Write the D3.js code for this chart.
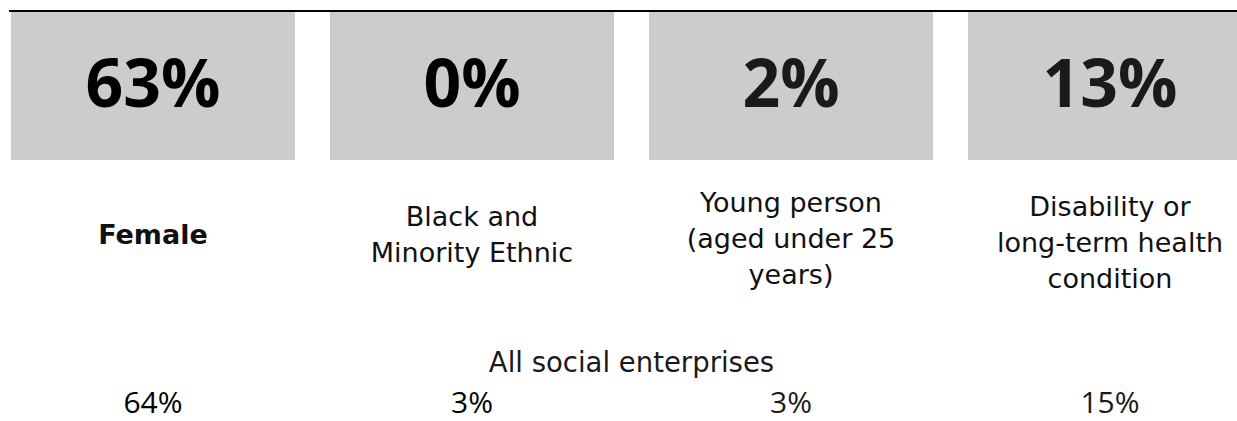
<!DOCTYPE html>
<html>
<head>
<meta charset="utf-8">
<script src="https://cdn.jsdelivr.net/npm/d3@7"></script>
<style>
  html, body { margin: 0; padding: 0; background: #fff; overflow: hidden; }
  svg { display: block; }
</style>
</head>
<body>
<svg id="chart" width="1237" height="421"></svg>
<script>
// ---- data ----
const categories = ["Female", "Black and\nMinority Ethnic", "Young person\n(aged under 25\nyears)", "Disability or\nlong-term health\ncondition"];
const groupValues = [63, 0, 2, 13];            // big figures in grey boxes
const allSocialValues = [64, 3, 3, 15];        // "All social enterprises" comparison
const comparisonLabel = "All social enterprises";
const highlighted = ["Female"];                // bold label

// ---- layout / style ----
const W = 1237, H = 421;
const svg = d3.select("#chart");
const x = d3.scaleBand().domain(categories).range([11, 1252]).paddingInner(35 / 319).paddingOuter(0);
const boxTop = 12, boxBottom = 160;
const labelMid = [244, 243.5, 248, 252];   // baseline of middle line per column
const lineH = 36;
const numColor = ["#000", "#000", "#1a1a1a", "#1a1a1a"];
const fmt = d => d + "%";

// top rule
svg.append("line")
  .attr("x1", 9).attr("x2", W)
  .attr("y1", 11).attr("y2", 11)
  .attr("stroke", "#000").attr("stroke-width", 2);

const cols = svg.selectAll("g.col").data(categories).join("g").attr("class", "col");

cols.append("rect")
  .attr("x", d => x(d)).attr("y", boxTop)
  .attr("width", x.bandwidth()).attr("height", boxBottom - boxTop)
  .attr("fill", "#cccccc");

cols.append("text")
  .attr("x", d => x(d) + x.bandwidth() / 2)
  .attr("y", 107)
  .attr("text-anchor", "middle")
  .attr("font-family", "'Open Sans', sans-serif")
  .attr("font-weight", 700)
  .attr("font-size", 66)
  .attr("fill", (d, i) => numColor[i])
  .text((d, i) => fmt(groupValues[i]));

cols.each(function(d, i) {
  const lines = d.split("\n");
  const n = lines.length;
  const t = d3.select(this).append("text")
    .attr("text-anchor", "middle")
    .attr("font-family", "'DejaVu Sans', sans-serif")
    .attr("font-size", 27)
    .attr("font-weight", highlighted.includes(d) ? 700 : 400)
    .attr("fill", "#111");
  lines.forEach((ln, j) => {
    t.append("tspan")
      .attr("x", x(d) + x.bandwidth() / 2)
      .attr("y", labelMid[i] + (j - (n - 1) / 2) * lineH)
      .text(ln);
  });
});

svg.append("text")
  .attr("x", (x.range()[0] + x.range()[1]) / 2)
  .attr("y", 372)
  .attr("text-anchor", "middle")
  .attr("font-family", "'DejaVu Sans', sans-serif")
  .attr("font-size", 27.5)
  .attr("fill", "#1a1a1a")
  .text(comparisonLabel);

cols.append("text")
  .attr("x", d => x(d) + x.bandwidth() / 2)
  .attr("y", 413)
  .attr("text-anchor", "middle")
  .attr("font-family", "'Open Sans', sans-serif")
  .attr("font-size", 30)
  .attr("fill", (d, i) => numColor[i])
  .text((d, i) => fmt(allSocialValues[i]));
</script>
</body>
</html>
